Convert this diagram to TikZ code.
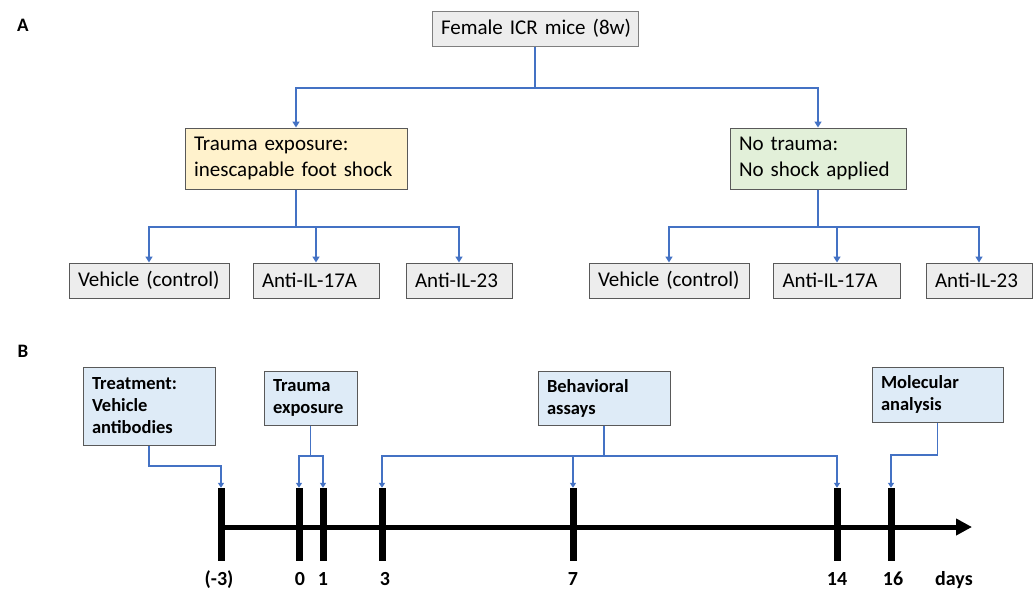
\documentclass[tikz,border=0pt]{standalone}
\usepackage{fontspec}
\setmainfont{Carlito}
\usetikzlibrary{arrows.meta}
\definecolor{lineblue}{HTML}{4472C4}
\definecolor{boxgray}{HTML}{EDEDED}
\definecolor{boxyellow}{HTML}{FFF2CC}
\definecolor{boxgreen}{HTML}{E2F0D9}
\definecolor{boxblue}{HTML}{DEEBF7}
\definecolor{edgegray}{HTML}{595959}
\definecolor{edgelight}{HTML}{7F7F7F}
\begin{document}
\begin{tikzpicture}[x=1pt,y=-1pt,
  boxA/.style={draw=edgegray, line width=1pt, align=left, inner xsep=9pt, inner ysep=0pt,
     font=\fontsize{21}{26}\selectfont},
  boxB/.style={draw=edgegray, line width=1pt, fill=boxblue, align=left, inner xsep=9pt, inner ysep=0pt,
     font=\fontsize{18.5}{22}\selectfont\bfseries},
  connA/.style={draw=lineblue, line width=2pt, -{Triangle[length=6pt,width=7pt]}},
  connB/.style={draw=lineblue, line width=1.3pt, -{Triangle[length=5pt,width=6pt]}},
  tick/.style={fill=black, minimum width=7pt, minimum height=73pt, inner sep=0pt},
  daylabel/.style={anchor=base, font=\fontsize{20}{24}\selectfont\bfseries, inner sep=0pt},
  panel/.style={font=\fontsize{19}{22}\selectfont\bfseries, inner sep=0pt}]
\useasboundingbox (0,0) rectangle (1036,590);

% ---------- Panel A ----------
\node[panel] (labA) at (23,25) {A};
\node[boxA, draw=edgelight, fill=boxgray, minimum width=206pt, minimum height=35pt, text width=188pt] (top) at (535,28.5) {\mbox{Female ICR mice (8w)}};
\node[boxA, fill=boxyellow, minimum width=222pt, minimum height=61pt, text width=204pt] (trauma) at (296,158.5) {Trauma exposure:\\inescapable foot shock};
\node[boxA, fill=boxgreen, minimum width=176pt, minimum height=61pt, text width=158pt] (notrauma) at (818,158.5) {No trauma:\\No shock applied};

\node[boxA, fill=boxgray, minimum width=160pt, minimum height=35pt, text width=142pt] (v1) at (149,280.5) {\mbox{Vehicle (control)}};
\node[boxA, fill=boxgray, minimum width=126pt, minimum height=35pt, text width=108pt] (a1) at (316,280.5) {\mbox{Anti-IL-17A}};
\node[boxA, fill=boxgray, minimum width=106pt, minimum height=35pt, text width=88pt] (b1) at (459,280.5) {\mbox{Anti-IL-23}};
\node[boxA, fill=boxgray, minimum width=160pt, minimum height=35pt, text width=142pt] (v2) at (669,280.5) {\mbox{Vehicle (control)}};
\node[boxA, fill=boxgray, minimum width=127pt, minimum height=35pt, text width=109pt] (a2) at (837,280.5) {\mbox{Anti-IL-17A}};
\node[boxA, fill=boxgray, minimum width=106pt, minimum height=35pt, text width=88pt] (b2) at (979,280.5) {\mbox{Anti-IL-23}};

\coordinate (jA) at (0,88);
\coordinate (jL) at (0,227);
\draw[connA] (top.south) -- (top.south |- jA) -| (trauma.north);
\draw[connA] (top.south) -- (top.south |- jA) -| (notrauma.north);
\draw[connA] (trauma.south) -- (trauma.south |- jL) -| (v1.north);
\draw[connA] (trauma.south) -- (trauma.south |- jL) -| (a1.north);
\draw[connA] (trauma.south) -- (trauma.south |- jL) -| (b1.north);
\draw[connA] (notrauma.south) -- (notrauma.south |- jL) -| (v2.north);
\draw[connA] (notrauma.south) -- (notrauma.south |- jL) -| (a2.north);
\draw[connA] (notrauma.south) -- (notrauma.south |- jL) -| (b2.north);

% ---------- Panel B ----------
\node[panel] (labB) at (23,351) {B};
\node[boxB, minimum width=132pt, minimum height=78pt, text width=114pt] (treat) at (149,406) {Treatment:\\Vehicle\\antibodies};
\node[boxB, minimum width=93pt, minimum height=54pt, text width=75pt] (traumaB) at (310.5,398) {Trauma\\exposure};
\node[boxB, minimum width=132pt, minimum height=54pt, text width=114pt] (beh) at (604,398) {Behavioral\\assays};
\node[boxB, minimum width=131pt, minimum height=55pt, text width=113pt] (mol) at (937.5,394.5) {Molecular\\analysis};

% timeline
\coordinate (tend) at (972,527);
\node[tick] (tm3) at (221,524.5) {};
\draw[line width=5pt, -{Triangle[length=16pt,width=16pt]}] (tm3.center |- tend) -- (tend);
\node[tick] (t0) at (299,524.5) {};
\node[tick] (t1) at (323,524.5) {};
\node[tick] (t3) at (382,524.5) {};
\node[tick] (t7) at (573,524.5) {};
\node[tick] (t14) at (837,524.5) {};
\node[tick] (t16) at (891,524.5) {};

\node[daylabel] (lm3) at (219,585) {(-3)};
\node[daylabel] (l0) at (300,585) {0};
\node[daylabel] (l1) at (323,585) {1};
\node[daylabel] (l3) at (385,585) {3};
\node[daylabel] (l7) at (573,585) {7};
\node[daylabel] (l14) at (837,585) {14};
\node[daylabel] (l16) at (893,585) {16};
\node[daylabel] (ldays) at (954,585) {days};

\coordinate (jT) at (0,466);
\coordinate (jB) at (0,456);
\coordinate (jM) at (0,455);
\draw[connB] (treat.south) -- (treat.south |- jT) -| (tm3.north);
\draw[connB] (traumaB.south) -- (traumaB.south |- jB) -| (t0.north);
\draw[connB] (traumaB.south) -- (traumaB.south |- jB) -| (t1.north);
\draw[connB] (beh.south) -- (beh.south |- jB) -| (t3.north);
\draw[connB] (beh.south) -- (beh.south |- jB) -| (t7.north);
\draw[connB] (beh.south) -- (beh.south |- jB) -| (t14.north);
\draw[connB] (mol.south) -- (mol.south |- jM) -| (t16.north);
\end{tikzpicture}
\end{document}
